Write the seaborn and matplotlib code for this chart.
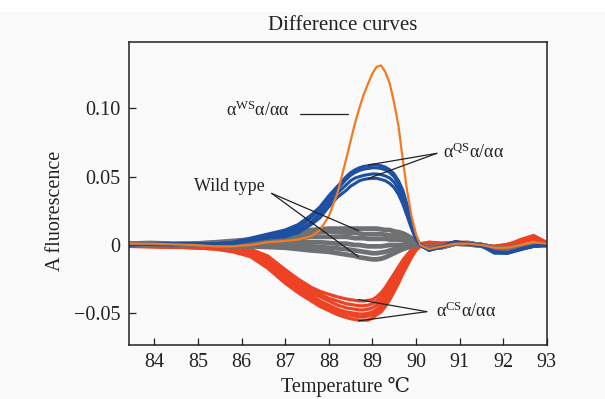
import numpy as np
import pandas as pd
import matplotlib
matplotlib.use("Agg")
import matplotlib.pyplot as plt
from matplotlib.patches import Rectangle
import seaborn as sns

sns.set_theme(style="white")
plt.rcParams['font.family'] = ['Liberation Serif', 'DejaVu Serif', 'DejaVu Sans']
plt.rcParams['mathtext.fontset'] = 'custom'
plt.rcParams['mathtext.rm'] = 'Liberation Serif'
plt.rcParams['mathtext.it'] = 'Liberation Serif:italic'

# ---------------- data ----------------
temperature = [83.4, 83.9, 84.4, 84.9, 85.4, 85.8, 86.2, 86.6, 87.0, 87.3,
               87.6, 87.8, 88.0, 88.2, 88.4, 88.5, 88.6, 88.7, 88.8, 88.9,
               89.0, 89.1, 89.2, 89.3, 89.4, 89.5, 89.6, 89.7, 89.8, 89.9,
               90.0, 90.1, 90.3, 90.6, 90.9, 91.2, 91.5, 91.8, 92.1, 92.4,
               92.7, 93.0]

ws_1 = [0.001, 0.001, 0.0005, 0.0, -0.001, -0.001, 0.0, 0.002, 0.003, 0.004,
        0.0065, 0.011, 0.021, 0.038, 0.063, 0.076, 0.089, 0.100, 0.110, 0.118,
        0.1255, 0.1305, 0.1315, 0.1265, 0.118, 0.104, 0.087, 0.062, 0.039, 0.021,
        0.008, 0.000, -0.003, -0.001, 0.001, 0.001, 0.000, -0.002, -0.002, 0.000,
        0.002, 0.001]

qs_1 = [0.000, 0.001, 0.001, 0.001, 0.001, 0.002, 0.005, 0.008, 0.011, 0.015,
        0.022, 0.028, 0.036, 0.043, 0.050, 0.053, 0.055, 0.0565, 0.0575, 0.058,
        0.0585, 0.0586, 0.058, 0.057, 0.055, 0.052, 0.047, 0.040, 0.029, 0.017,
        0.006, 0.000, -0.0035, -0.001, 0.0025, 0.001, 0.000, -0.005, -0.006, -0.003,
        -0.001, 0.000]
qs_2 = [0.000, 0.001, 0.0005, 0.001, 0.001, 0.0015, 0.004, 0.007, 0.010, 0.013,
        0.020, 0.026, 0.034, 0.041, 0.048, 0.051, 0.053, 0.0545, 0.0555, 0.056,
        0.0565, 0.0565, 0.056, 0.055, 0.053, 0.050, 0.045, 0.038, 0.028, 0.016,
        0.005, 0.000, -0.0035, -0.0012, 0.0022, 0.001, 0.000, -0.005, -0.0055, -0.003,
        -0.001, 0.000]
qs_3 = [0.000, 0.0005, 0.0005, 0.001, 0.001, 0.0015, 0.004, 0.006, 0.008, 0.011,
        0.017, 0.023, 0.031, 0.038, 0.044, 0.047, 0.049, 0.050, 0.051, 0.0515,
        0.052, 0.052, 0.0515, 0.0505, 0.049, 0.046, 0.041, 0.034, 0.025, 0.014,
        0.005, 0.000, -0.004, -0.0012, 0.002, 0.001, -0.0005, -0.0055, -0.006, -0.0035,
        -0.001, 0.0005]
qs_4 = [0.000, 0.001, 0.000, 0.001, 0.001, 0.001, 0.003, 0.005, 0.006, 0.009,
        0.015, 0.020, 0.028, 0.035, 0.040, 0.043, 0.045, 0.047, 0.048, 0.0485,
        0.0488, 0.0488, 0.048, 0.047, 0.045, 0.042, 0.037, 0.030, 0.021, 0.012,
        0.004, 0.000, -0.0038, -0.0015, 0.0022, 0.0008, -0.0005, -0.006, -0.006, -0.003,
        -0.0005, 0.000]

wt_1 = [0.001, 0.0015, 0.001, 0.001, 0.002, 0.003, 0.004, 0.007, 0.009, 0.010,
        0.011, 0.0115, 0.012, 0.012, 0.012, 0.012, 0.012, 0.012, 0.012, 0.012,
        0.012, 0.012, 0.0115, 0.011, 0.011, 0.010, 0.0095, 0.0085, 0.007, 0.005,
        0.003, 0.000, -0.002, -0.001, 0.0015, 0.001, 0.000, -0.002, -0.002, -0.001,
        0.000, 0.000]
wt_2 = [0.001, 0.001, 0.0005, 0.001, 0.0015, 0.002, 0.003, 0.005, 0.007, 0.008,
        0.009, 0.0095, 0.010, 0.0095, 0.009, 0.009, 0.009, 0.0085, 0.008, 0.008,
        0.008, 0.008, 0.008, 0.0075, 0.007, 0.007, 0.0065, 0.006, 0.005, 0.0035,
        0.002, 0.000, -0.002, -0.0015, 0.001, 0.001, 0.000, -0.002, -0.0025, -0.0015,
        0.000, 0.000]
wt_3 = [0.0005, 0.001, 0.0005, 0.0005, 0.001, 0.0015, 0.002, 0.003, 0.004, 0.005,
        0.006, 0.006, 0.006, 0.006, 0.006, 0.0055, 0.005, 0.005, 0.005, 0.0045,
        0.0045, 0.0045, 0.0045, 0.0045, 0.004, 0.004, 0.004, 0.0035, 0.003, 0.002,
        0.001, 0.000, -0.002, -0.0015, 0.001, 0.0005, -0.0005, -0.0025, -0.0025, -0.0015,
        0.000, 0.0005]
wt_4 = [0.0005, 0.0005, 0.000, 0.0005, 0.0005, 0.001, 0.001, 0.001, 0.0015, 0.002,
        0.002, 0.002, 0.0015, 0.001, 0.001, 0.0005, 0.000, 0.000, -0.0005, -0.001,
        -0.001, -0.001, -0.001, -0.0005, 0.000, 0.000, 0.000, 0.000, 0.0005, 0.0005,
        0.000, 0.000, -0.0015, -0.001, 0.0015, 0.001, 0.000, -0.002, -0.002, -0.001,
        0.000, 0.000]
wt_5 = [0.000, 0.0005, 0.000, 0.000, 0.000, 0.000, 0.000, -0.0005, -0.0005, -0.001,
        -0.001, -0.0015, -0.002, -0.0025, -0.003, -0.0035, -0.004, -0.0045, -0.005, -0.0055,
        -0.006, -0.006, -0.0055, -0.005, -0.004, -0.003, -0.002, -0.0015, -0.001, -0.0005,
        0.000, 0.000, -0.002, -0.001, 0.001, 0.001, 0.000, -0.0025, -0.002, -0.001,
        0.000, 0.0005]
wt_6 = [0.000, 0.000, -0.0005, 0.000, -0.0005, -0.001, -0.001, -0.0015, -0.002, -0.003,
        -0.004, -0.0045, -0.005, -0.006, -0.007, -0.0075, -0.008, -0.009, -0.0095, -0.010,
        -0.0105, -0.0105, -0.010, -0.009, -0.0075, -0.006, -0.0045, -0.003, -0.002, -0.001,
        -0.0005, 0.000, -0.0025, -0.0015, 0.001, 0.0005, -0.0005, -0.003, -0.0025, -0.0015,
        0.000, 0.000]

cs_1 = [-0.0005, -0.001, -0.001, -0.0015, -0.001, -0.002, -0.003, -0.008, -0.018, -0.025,
        -0.031, -0.034, -0.036, -0.038, -0.0395, -0.040, -0.0405, -0.041, -0.041, -0.0405,
        -0.040, -0.038, -0.035, -0.031, -0.026, -0.021, -0.016, -0.011, -0.007, -0.0035,
        -0.001, 0.001, 0.002, 0.0015, 0.002, 0.002, 0.000, -0.001, 0.000, 0.004,
        0.007, 0.002]
cs_2 = [-0.0005, -0.001, -0.0015, -0.0015, -0.0015, -0.003, -0.004, -0.010, -0.020, -0.027,
        -0.033, -0.036, -0.039, -0.041, -0.043, -0.0435, -0.044, -0.0445, -0.0445, -0.044,
        -0.043, -0.041, -0.038, -0.034, -0.029, -0.024, -0.018, -0.013, -0.008, -0.004,
        -0.0015, 0.0005, 0.002, 0.001, 0.0015, 0.002, 0.000, -0.001, 0.0005, 0.003,
        0.006, 0.0015]
cs_3 = [-0.001, -0.001, -0.0015, -0.002, -0.002, -0.0035, -0.005, -0.012, -0.022, -0.029,
        -0.035, -0.038, -0.041, -0.044, -0.046, -0.0465, -0.047, -0.0475, -0.0475, -0.047,
        -0.046, -0.044, -0.041, -0.037, -0.032, -0.027, -0.021, -0.015, -0.010, -0.005,
        -0.002, 0.000, 0.0015, 0.001, 0.0015, 0.0015, -0.0005, -0.0015, 0.000, 0.002,
        0.005, 0.001]
cs_4 = [-0.001, -0.001, -0.0015, -0.002, -0.0025, -0.004, -0.006, -0.014, -0.024, -0.031,
        -0.037, -0.041, -0.044, -0.047, -0.049, -0.0495, -0.050, -0.0505, -0.0505, -0.050,
        -0.049, -0.047, -0.044, -0.040, -0.035, -0.029, -0.023, -0.017, -0.011, -0.006,
        -0.0025, 0.000, 0.0015, 0.001, 0.001, 0.001, -0.001, -0.001, 0.0005, 0.003,
        0.0055, 0.0015]
cs_5 = [-0.001, -0.0015, -0.0015, -0.002, -0.003, -0.0045, -0.007, -0.0155, -0.026, -0.033,
        -0.039, -0.043, -0.046, -0.049, -0.051, -0.0515, -0.052, -0.0525, -0.0525, -0.052,
        -0.051, -0.049, -0.046, -0.042, -0.037, -0.031, -0.025, -0.019, -0.013, -0.007,
        -0.003, -0.0005, 0.001, 0.001, 0.0015, 0.0015, -0.0005, -0.0015, 0.000, 0.0025,
        0.0045, 0.001]
cs_6 = [-0.001, -0.001, -0.0015, -0.002, -0.003, -0.005, -0.0085, -0.017, -0.028, -0.035,
        -0.041, -0.045, -0.048, -0.051, -0.053, -0.054, -0.0545, -0.055, -0.055, -0.055,
        -0.0535, -0.051, -0.049, -0.045, -0.040, -0.034, -0.028, -0.021, -0.015, -0.009,
        -0.004, -0.001, 0.001, 0.0005, 0.001, 0.001, -0.001, -0.002, -0.0005, 0.002,
        0.004, 0.0005]

groups = {
    "CS": [cs_1, cs_2, cs_3, cs_4, cs_5, cs_6],
    "WT": [wt_1, wt_2, wt_3, wt_4, wt_5, wt_6],
    "QS": [qs_1, qs_2, qs_3, qs_4],
    "WS": [ws_1],
}
colors = {"CS": "#ee4224", "WT": "#6e7072", "QS": "#1d4fa3", "WS": "#f47a22"}
widths = {"CS": 2.3, "WT": 3.4, "QS": 2.2, "WS": 1.6}

y_ticks = [-0.05, 0.0, 0.05, 0.10]
y_tick_labels = ["\u22120.05", "0", "0.05", "0.10"]
x_ticks = [84, 85, 86, 87, 88, 89, 90, 91, 92, 93]

rows = []
for g, curves in groups.items():
    for i, c in enumerate(curves):
        for t, v in zip(temperature, c):
            rows.append((g, f"{g}{i}", t, v))
df = pd.DataFrame(rows, columns=["group", "curve", "T", "val"])

# ---------------- figure ----------------
W, H = 605, 399
fig = plt.figure(figsize=(W / 100, H / 100), dpi=100, facecolor="#fafafa")
fig.add_artist(Rectangle((0, 1 - 11 / H), 1, 11 / H, transform=fig.transFigure,
                         color="white", zorder=-1))
ax = fig.add_axes([128.7 / W, 1 - 345 / H, (546.7 - 128.7) / W, (345 - 42) / H])
ax.set_facecolor("#fafafa")

for g in ["CS", "WT", "QS", "WS"]:
    sub = df[df["group"] == g]
    sns.lineplot(data=sub, x="T", y="val", units="curve", estimator=None,
                 color=colors[g], lw=widths[g], ax=ax, sort=False,
                 solid_joinstyle="round", solid_capstyle="round")

ax.set_xlim(83.41, 93.0)
ax.set_ylim(-0.0732, 0.1486)
ax.set_xticks(x_ticks)
ax.set_xticklabels([str(x) for x in x_ticks])
ax.set_yticks(y_ticks)
ax.set_yticklabels(y_tick_labels)
ax.tick_params(axis="both", direction="in", length=5, width=0.9, color="#222222",
               labelsize=14.5, pad=6, bottom=True, left=True, top=False, right=False,
               labelcolor="#222222")
for s in ax.spines.values():
    s.set_color("#222222")
    s.set_linewidth(1.1)

ax.set_xlabel("Temperature \u2103", fontsize=14.5, color="#222222")
ax.xaxis.set_label_coords((345.7 - 128.7) / 418, (345 - 386.7) / 303)
ax.xaxis.label.set_va("center")
ax.set_ylabel("A fluorescence", fontsize=14.5, color="#222222")
ax.yaxis.set_label_coords((55 - 128.7) / 418, (345 - 211) / 303)
ax.yaxis.label.set_va("center")

fig.text(342.7 / W, 1 - 26 / H, "Difference curves", ha="center", va="center",
         fontsize=15, color="#222222")

# ---------------- annotations ----------------
lk = dict(color="#222222", lw=0.9)
ax.text(87.11, 0.0988, r"α$^{\rm WS}$α/αα", ha="right", va="center", fontsize=13, color="#222222")
ax.plot([87.35, 88.45], [0.0959, 0.0959], **lk)

ax.text(90.62, 0.068, r"α$^{\rm QS}$α/αα", ha="left", va="center", fontsize=13, color="#222222")
ax.plot([90.48, 88.91], [0.0671, 0.0586], **lk)
ax.plot([90.48, 88.91], [0.0671, 0.0488], **lk)

ax.text(86.54, 0.0427, "Wild type", ha="right", va="center", fontsize=13, color="#222222")
ax.plot([86.69, 88.68], [0.0378, 0.0105], **lk)
ax.plot([86.69, 88.68], [0.0378, -0.0086], **lk)

ax.text(90.45, -0.0488, r"α$^{\rm CS}$α/αα", ha="left", va="center", fontsize=13, color="#222222")
ax.plot([90.25, 88.68], [-0.0488, -0.040], **lk)
ax.plot([90.25, 88.68], [-0.0488, -0.0556], **lk)

fig.savefig("out.png", dpi=100, facecolor=fig.get_facecolor())
